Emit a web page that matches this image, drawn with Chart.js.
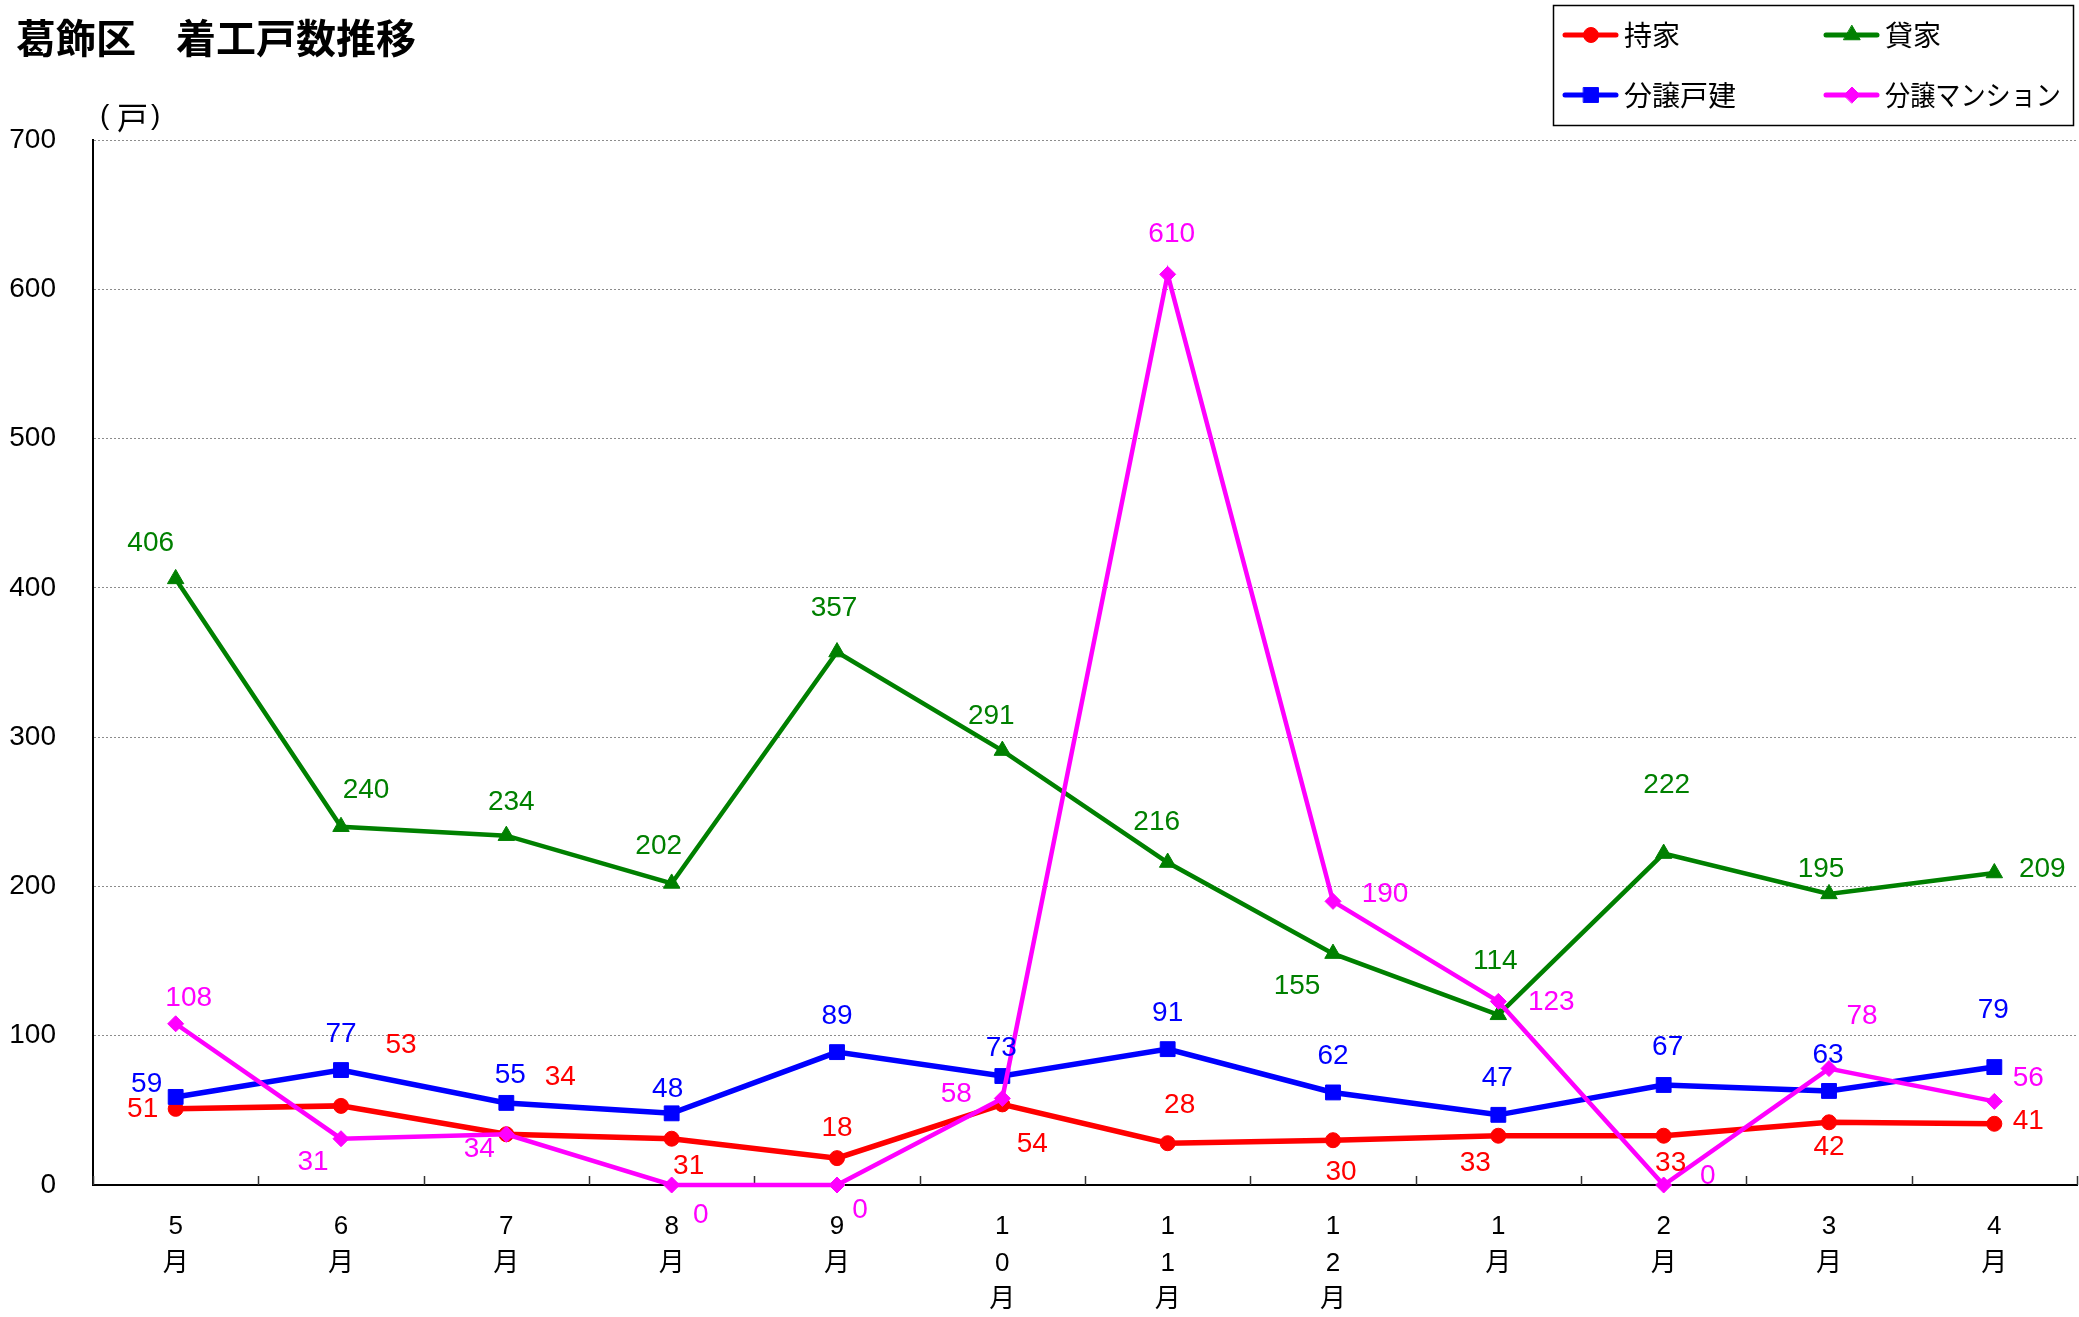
<!DOCTYPE html>
<html><head><meta charset="utf-8">
<script src="https://cdn.jsdelivr.net/npm/chart.js@4.4.0/dist/chart.umd.min.js"></script>
<style>html,body{margin:0;padding:0;background:#fff;}</style>
</head><body>
<canvas id="c" width="2079" height="1317"></canvas>
<script>
// ---- data ----
const months = [['5','月'],['6','月'],['7','月'],['8','月'],['9','月'],['1','0','月'],['1','1','月'],['1','2','月'],['1','月'],['2','月'],['3','月'],['4','月']];
const seriesNames = ['持家','貸家','分譲戸建','分譲マンション'];
const mochiie = [51,53,34,31,18,54,28,30,33,33,42,41];
const kashiya = [406,240,234,202,357,291,216,155,114,222,195,209];
const bunjoKodate = [59,77,55,48,89,73,91,62,47,67,63,79];
const bunjoMansion = [108,31,34,0,0,58,610,190,123,0,78,56];
const yTickValues = [0,100,200,300,400,500,600,700];
const titleText = '葛飾区　着工戸数推移';
const unitText = ['(', '戸', ')'];

// ---- label placement (offsets from point, px) ----
const labelOffsets = [
  [[-33,0],[60,-61],[54,-57],[17,28],[0,-30],[30,40],[12,-38],[8,32],[-23,28],[7,28],[0,25],[34,-3]],
  [[-25,-36],[25,-36],[5,-33],[-13,-37],[-3,-44],[-11,-34],[-11,-40],[-36,33],[-3,-54],[3,-68],[-8,-25],[48,-4]],
  [[-29,-13],[0,-36],[4,-28],[-4,-24],[0,-36],[-1,-28],[0,-36],[0,-36],[-1,-37],[4,-38],[-1,-36],[-1,-57]],
  [[13,-25],[-28,24],[-27,15],[29,30],[23,25],[-46,-4],[4,-40],[52,-7],[53,1],[44,-9],[33,-52],[34,-23]]
];
const colors = ['#FF0000','#008000','#0000FF','#FF00FF'];
const NUMFONT = '"Liberation Sans", "Noto Sans CJK JP", sans-serif';
const CJKFONT = '"Noto Sans CJK JP", sans-serif';
const markerStyles = ['circle','triangle','rect','rectRot'];
const markerRadii = [7.5, 9.5, 10.5, 8];
const lineWidths = [5.5, 4.5, 5.5, 4.5];

const extrasPlugin = {
  id: 'extras',
  beforeDatasetsDraw(chart) {
    const ctx = chart.ctx, x = chart.scales.x, a = chart.chartArea;
    ctx.save();
    ctx.strokeStyle = '#333';
    ctx.lineWidth = 1.5;
    for (let i = 0; i <= months.length; i++) {
      const px = Math.round(x.getPixelForValue(i - 0.5)) + 0.5;
      ctx.beginPath();
      ctx.moveTo(px, a.bottom);
      ctx.lineTo(px, a.bottom - 9);
      ctx.stroke();
    }
    ctx.restore();
  },
  afterDatasetsDraw(chart) {
    const ctx = chart.ctx;
    ctx.save();
    ctx.font = '28px ' + NUMFONT;
    ctx.textAlign = 'center';
    ctx.textBaseline = 'middle';
    chart.data.datasets.forEach((ds, di) => {
      const meta = chart.getDatasetMeta(di);
      ctx.fillStyle = colors[di];
      meta.data.forEach((pt, i) => {
        const off = labelOffsets[di][i];
        ctx.fillText(String(ds.data[i]), pt.x + off[0], pt.y + off[1]);
      });
    });
    ctx.restore();
  },
  afterDraw(chart) {
    const ctx = chart.ctx;
    ctx.save();
    // title
    ctx.fillStyle = '#000';
    ctx.font = 'bold 40px ' + CJKFONT;
    ctx.textAlign = 'left';
    ctx.textBaseline = 'middle';
    ctx.fillText(titleText, 16, 38);
    // unit label
    ctx.font = '28px ' + NUMFONT;
    ctx.fillText(unitText[0], 100, 116);
    ctx.font = '31px ' + CJKFONT;
    ctx.fillText(unitText[1], 117, 117);
    ctx.font = '28px ' + NUMFONT;
    ctx.fillText(unitText[2], 151, 116);
    // legend
    const bx = 1553, by = 5, bw = 520, bh = 120;
    ctx.strokeStyle = '#000';
    ctx.lineWidth = 1.5;
    ctx.strokeRect(bx + 0.5, by + 0.5, bw, bh);
    const pos = [[1563,35],[1824,35],[1563,95],[1824,95]];
    const maxW = [200, 180, 200, 176];
    chart.data.datasets.forEach((ds, di) => {
      const [lx, ly] = pos[di];
      ctx.strokeStyle = colors[di];
      ctx.lineWidth = 5;
      ctx.lineCap = 'round';
      ctx.beginPath(); ctx.moveTo(lx + 2, ly); ctx.lineTo(lx + 53, ly); ctx.stroke();
      ctx.fillStyle = colors[di];
      ctx.strokeStyle = colors[di];
      ctx.lineWidth = 1;
      Chart.helpers.drawPoint(ctx, {pointStyle: markerStyles[di], radius: markerRadii[di], borderWidth: 1, rotation: 0}, lx + 28, ly);
      ctx.fillStyle = '#000';
      ctx.font = '28px ' + CJKFONT;
      ctx.textAlign = 'left';
      ctx.textBaseline = 'middle';
      ctx.fillText(seriesNames[di], lx + 61, ly, maxW[di]);
    });
    ctx.restore();
  }
};

function ds(i, data, order) {
  const color = colors[i];
  return {
    label: seriesNames[i], data, borderColor: color, backgroundColor: color,
    pointBackgroundColor: color, pointBorderColor: color,
    pointStyle: markerStyles[i], pointRadius: markerRadii[i], pointHoverRadius: markerRadii[i],
    borderWidth: lineWidths[i], pointBorderWidth: 1, tension: 0, fill: false,
    clip: false, order
  };
}

new Chart(document.getElementById('c'), {
  type: 'line',
  data: {
    labels: months,
    datasets: [
      ds(0, mochiie, 4),
      ds(1, kashiya, 3),
      ds(2, bunjoKodate, 2),
      ds(3, bunjoMansion, 1)
    ]
  },
  options: {
    responsive: false,
    animation: false,
    devicePixelRatio: 1,
    layout: { autoPadding: false, padding: { top: 140, right: 2, left: 0, bottom: 0 } },
    plugins: { legend: { display: false }, title: { display: false }, tooltip: { enabled: false } },
    scales: {
      x: {
        type: 'category',
        offset: true,
        grid: { display: false, drawTicks: false },
        border: { display: true, color: '#000', width: 2 },
        ticks: {
          color: '#000', font: { family: NUMFONT, size: 26, lineHeight: 1.4 },
          maxRotation: 0, minRotation: 0, autoSkip: false, padding: 24
        },
        afterFit(s) { s.height = 132; s.paddingLeft = 0; s.paddingRight = 0; }
      },
      y: {
        min: 0, max: 700,
        afterBuildTicks(s) { s.ticks = yTickValues.map(v => ({ value: v })); },
        grid: {
          drawTicks: false,
          color: (c) => c.tick && c.tick.value === 0 ? 'rgba(0,0,0,0)' : '#8c8c8c',
          lineWidth: 1
        },
        border: { display: true, color: '#000', width: 2, dash: [2, 2] },
        ticks: { color: '#000', font: { family: NUMFONT, size: 28 }, padding: 37 },
        afterFit(s) { s.width = 93; }
      }
    }
  },
  plugins: [extrasPlugin]
});
</script>
</body></html>
